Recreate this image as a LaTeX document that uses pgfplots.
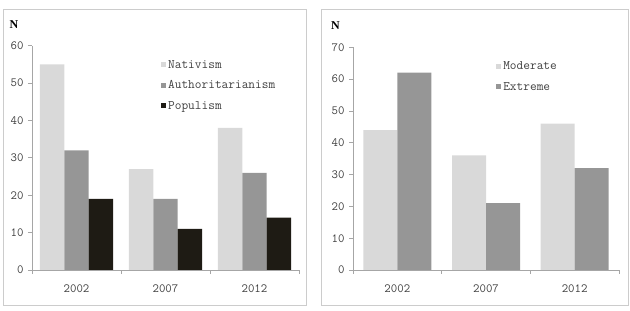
\documentclass[border=0pt]{standalone}
\usepackage{fontspec}
\newfontfamily\nfont{Liberation Serif}
\usepackage{pgfplots}
\pgfplotsset{compat=1.18}

\definecolor{lightbar}{HTML}{D9D9D9}
\definecolor{midbar}{HTML}{969696}
\definecolor{darkbar}{HTML}{1E1B14}
\definecolor{axisgray}{HTML}{A6A6A6}
\definecolor{framegray}{HTML}{CCCCCC}
\definecolor{textgray}{HTML}{404040}

\newcommand{\lblfont}{\ttfamily\fontsize{12.5bp}{14bp}\selectfont}
\newcommand{\legfont}{\ttfamily\fontsize{13bp}{14bp}\selectfont}

\pgfplotsset{
  panel/.style={
    scale only axis,
    anchor=south west,
    axis x line*=bottom,
    axis y line*=left,
    axis line style={axisgray, line width=0.8bp},
    tick align=outside,
    ymin=0, xmin=-0.5, xmax=2.5,
    xtick={0,1,2},
    xticklabels={2002,2007,2012},
    major x tick style={draw=none},
    minor xtick={-0.5,0.5,1.5,2.5},
    minor x tick style={axisgray, line width=0.8bp},
    minor tick length=4bp,
    ytick distance=10,
    major y tick style={axisgray, line width=0.8bp},
    major tick length=4bp,
    tick label style={font=\lblfont, text=textgray},
    yticklabel style={xshift=-1bp},
    xticklabel style={yshift=-7bp},
    /pgf/number format/assume math mode=true,
    legend style={draw=none, fill=none, font=\legfont, text=textgray,
      anchor=north west, row sep=7bp, inner sep=0pt},
    legend cell align=left,
  },
}

\begin{document}
\begin{tikzpicture}
  % page extent and panel frames
  \path (0bp,0bp) rectangle (630bp,311bp);
  \draw[framegray, line width=0.9bp] (3.5bp,5.5bp) rectangle (306bp,302bp);
  \draw[framegray, line width=0.9bp] (321bp,5.5bp) rectangle (628bp,302bp);

  % left panel: frames by year
  \begin{axis}[panel,
      at={(32bp,41bp)}, width=267bp, height=224.3bp,
      ymax=60,
      ybar=0pt, bar width=24.4bp,
      legend image code/.code={\fill[#1] (0bp,-2.5bp) rectangle (5bp,2.5bp);},
      legend style={at={(0.483,0.945)}},
    ]
    \addplot[fill=lightbar, draw=none] coordinates {(0,55) (1,27) (2,38)};
    \addplot[fill=midbar,   draw=none] coordinates {(0,32) (1,19) (2,26)};
    \addplot[fill=darkbar,  draw=none] coordinates {(0,19) (1,11) (2,14)};
    \legend{Nativism, Authoritarianism, Populism}
  \end{axis}
  \node[font=\nfont\bfseries\fontsize{12bp}{14bp}\selectfont, text=black] at (14bp,286bp) {N};

  % right panel: moderate versus extreme
  \begin{axis}[panel,
      at={(353bp,41bp)}, width=266bp, height=222.7bp,
      ymax=70,
      ybar=0pt, bar width=34bp,
      legend image code/.code={\fill[#1] (0bp,-2.5bp) rectangle (5bp,2.5bp);},
      legend style={at={(0.538,0.945)}},
    ]
    \addplot[fill=lightbar, draw=none] coordinates {(0,44) (1,36) (2,46)};
    \addplot[fill=midbar,   draw=none] coordinates {(0,62) (1,21) (2,32)};
    \legend{Moderate, Extreme}
  \end{axis}
  \node[font=\nfont\bfseries\fontsize{12bp}{14bp}\selectfont, text=black] at (335.5bp,285.5bp) {N};
\end{tikzpicture}
\end{document}
